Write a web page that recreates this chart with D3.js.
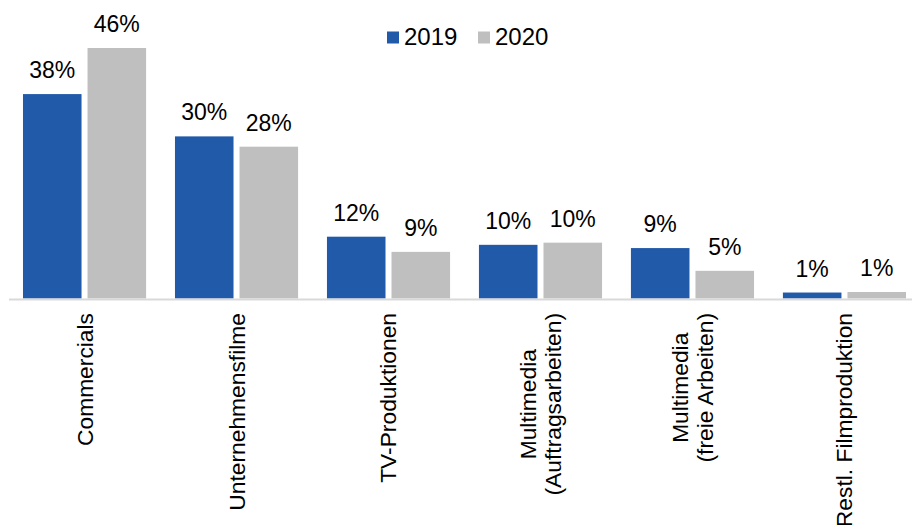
<!DOCTYPE html>
<html><head>
<meta charset="utf-8">
<style>
body { margin: 0; background: #fff; }
text { font-family: "Liberation Sans", Arial, sans-serif; fill: #000; }
</style>
</head><body>
<svg width="912" height="525"></svg>
<script src="https://d3js.org/d3.v7.min.js"></script>
<script>

// data
var categories = [
  ["Commercials"],
  ["Unternehmensfilme"],
  ["TV-Produktionen"],
  ["Multimedia", "(Auftragsarbeiten)"],
  ["Multimedia", "(freie Arbeiten)"],
  ["Restl. Filmproduktion"]
];
var years = ["2019", "2020"];
var values2019 = [37.7, 29.9, 11.4, 9.9, 9.3, 1.1];
var values2020 = [46.2, 28.0, 8.6, 10.3, 5.1, 1.2];
var labels2019 = ["38%", "30%", "12%", "10%", "9%", "1%"];
var labels2020 = ["46%", "28%", "9%", "10%", "5%", "1%"];
var colors = ["#215aa8", "#bfbfbf"];

var svg = d3.select("svg");
var baseY = 298.5;

var keys = categories.map(function(d) { return d.join(" "); });

var x0 = d3.scaleBand().domain(keys).range([9, 920])
    .paddingInner(0.19).paddingOuter(0.092);
var x1 = d3.scaleBand().domain(years).range([0, x0.bandwidth()])
    .paddingInner(0.093);
var y = d3.scaleLinear().domain([0, 46.2]).range([baseY, 48]);

var rows = keys.map(function(k, i) {
  return {key: k, vals: [
    {year: "2019", v: values2019[i], label: labels2019[i]},
    {year: "2020", v: values2020[i], label: labels2020[i]}
  ]};
});

var groups = svg.selectAll(".grp")
  .data(rows)
  .enter().append("g")
    .attr("class", "grp")
    .attr("transform", function(d) { return "translate(" + x0(d.key) + ",0)"; });

groups.selectAll("rect")
  .data(function(d) { return d.vals; })
  .enter().append("rect")
    .attr("x", function(d) { return x1(d.year); })
    .attr("y", function(d) { return y(d.v); })
    .attr("width", x1.bandwidth())
    .attr("height", function(d) { return baseY - y(d.v); })
    .attr("fill", function(d, i) { return colors[i]; });

groups.selectAll(".val")
  .data(function(d) { return d.vals; })
  .enter().append("text")
    .attr("class", "val")
    .attr("x", function(d) { return x1(d.year) + x1.bandwidth() / 2; })
    .attr("y", function(d) { return y(d.v) - 16; })
    .attr("text-anchor", "middle")
    .style("font-size", "23px")
    .text(function(d) { return d.label; });

// baseline
svg.append("line")
    .attr("x1", 9).attr("x2", 912)
    .attr("y1", baseY + 1).attr("y2", baseY + 1)
    .attr("stroke", "#d9d9d9")
    .attr("stroke-width", 2);

// category labels, rotated, lines centred on the longest one
var labTop = 313, lineH = 25;
categories.forEach(function(lines, i) {
  var cx = x0(keys[i]) + x0.bandwidth() / 2;
  var t = svg.append("text")
      .attr("text-anchor", "middle")
      .style("font-size", "22.8px");
  lines.forEach(function(s) {
    t.append("tspan").text(s);
  });
  var maxLen = 0;
  t.selectAll("tspan").each(function() {
    maxLen = Math.max(maxLen, this.getComputedTextLength());
  });
  var cy = labTop + maxLen / 2;
  t.attr("transform", "translate(" + cx + "," + cy + ") rotate(-90)");
  t.selectAll("tspan")
    .attr("x", 0)
    .attr("y", function(d, j) { return (j - (lines.length - 1) / 2) * lineH; })
    .attr("dy", "0.35em");
});

// legend
var legend = svg.append("g").attr("transform", "translate(387,0)");
years.forEach(function(yr, i) {
  var lg = legend.append("g").attr("transform", "translate(" + (i * 91) + ",0)");
  lg.append("rect")
      .attr("x", 0).attr("y", 31.5)
      .attr("width", 12).attr("height", 12)
      .attr("fill", colors[i]);
  lg.append("text")
      .attr("x", 17).attr("y", 45)
      .style("font-size", "24px")
      .text(yr);
});

</script>
</body></html>
